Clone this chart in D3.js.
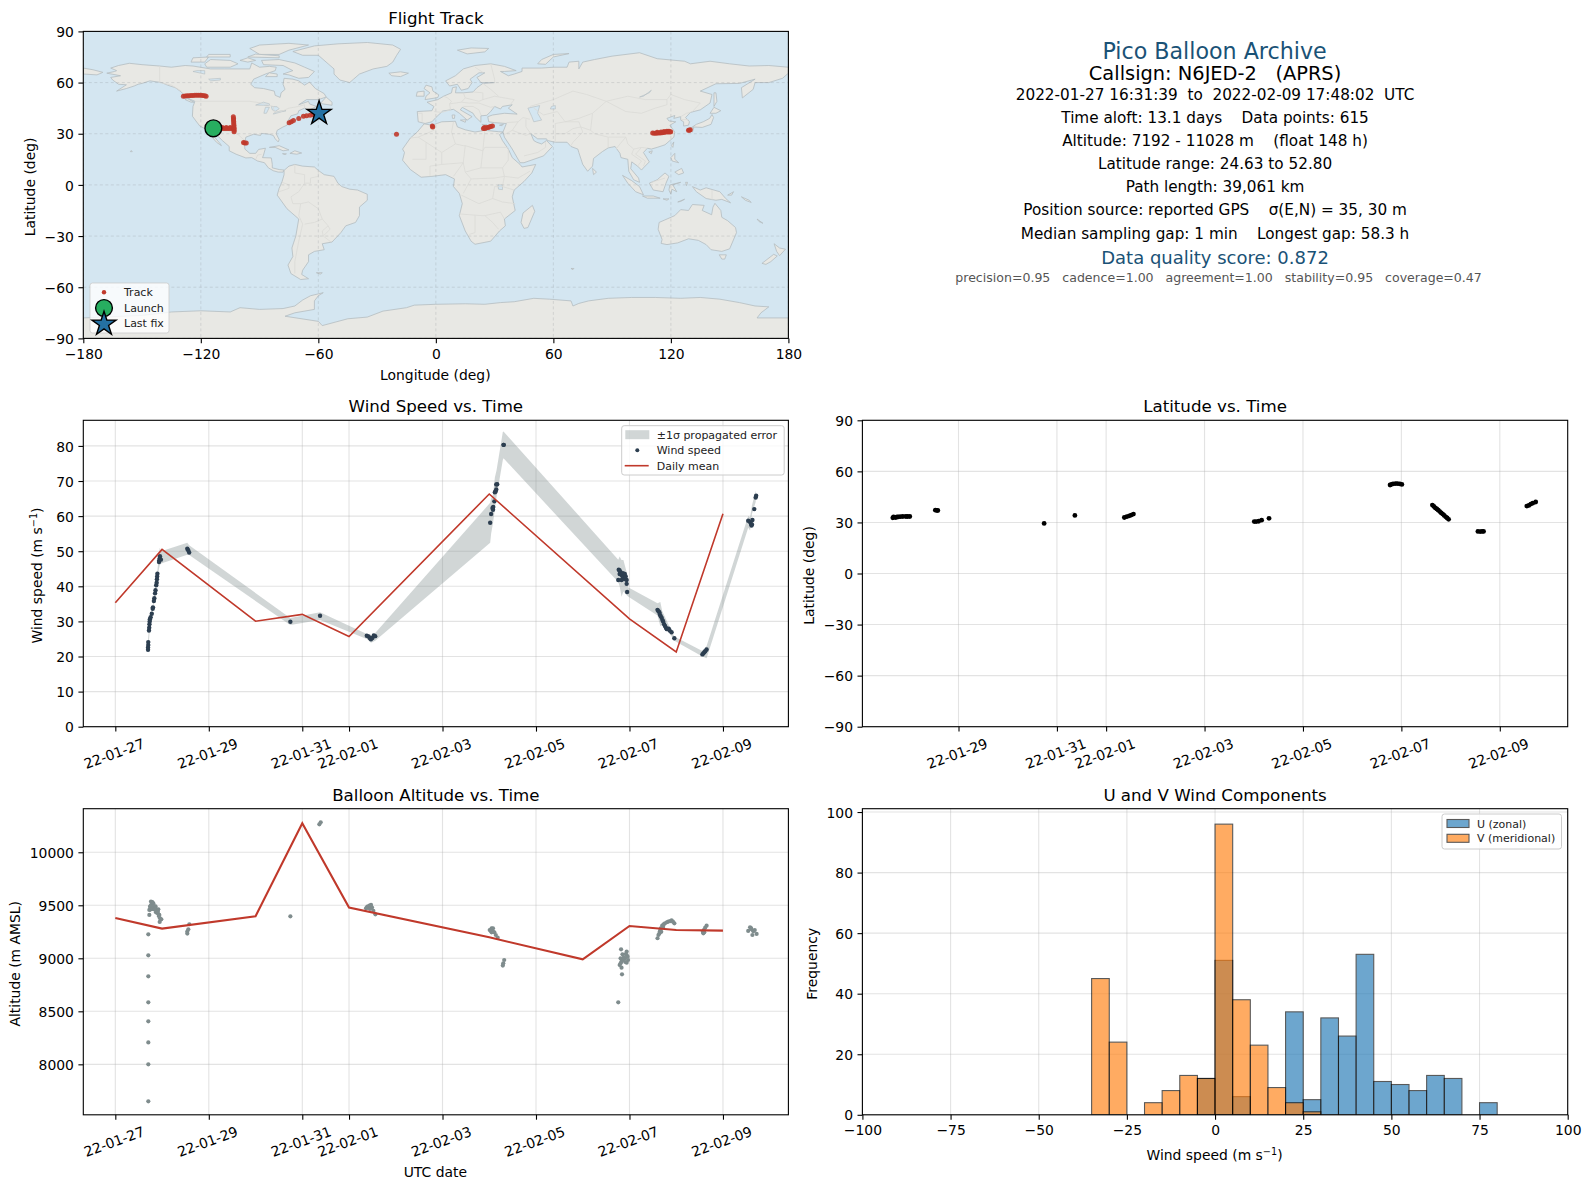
<!DOCTYPE html>
<html>
<head>
<meta charset="utf-8">
<script src="https://cdn.jsdelivr.net/npm/d3@7"></script>
<style>
  html, body { margin: 0; padding: 0; background: #fff; }
  text { font-family: "DejaVu Sans", sans-serif; fill: #000; }
</style>
</head>
<body>
<div id="chart"></div>
<script>
// Land outlines, lon/lat
const landPolygons = [
  // North America
  [[-168,65.5],[-164,66.5],[-163,67],[-166,68.5],[-162,70],[-156.5,71.3],[-150,70.5],[-141,69.7],[-135,69],[-128,70],[-124,69.7],[-115,68],[-108,68],[-100,68],[-95,68],[-94,71.5],[-90,69],[-85,69.5],[-81.5,69],[-82,67],[-87,65],[-93,62],[-94.5,59],[-92.5,57],[-88,56.5],[-82.5,55],[-82,52.5],[-79.5,51.3],[-79,54],[-77,56],[-78,59],[-77.5,62.5],[-73,62],[-70,61],[-67,58.5],[-64.5,60.3],[-61.5,56.5],[-57,53.5],[-56,51.5],[-60,50],[-66,50],[-70,47],[-65,49],[-64.5,47.5],[-61,46],[-65,43.7],[-67,45],[-70,43.5],[-70.5,41.7],[-74,40.5],[-75.5,37.5],[-76,35],[-78,34],[-81,32],[-81.5,30],[-80,26.5],[-80.5,25.2],[-82,27],[-83,29],[-85,29.7],[-89,30.2],[-89.5,29],[-93,29.7],[-97,28],[-97.7,24],[-97.5,21],[-95,18.5],[-92,18.5],[-90.5,20.8],[-87,21.5],[-88,17.5],[-88.5,16],[-84,15.8],[-83.5,12],[-83.5,10],[-80,9],[-77.5,8.7],[-78,7.5],[-80.5,7.5],[-83,8.3],[-85.5,10],[-87.5,13],[-91,14],[-94,16],[-97,15.8],[-102,18],[-105.5,20],[-105.5,22.5],[-109,26],[-112.5,30],[-114.7,31.7],[-113,28],[-110,24],[-109.5,23],[-112,25],[-115,29],[-117,32.5],[-120.5,34.5],[-122.5,37.5],[-124.3,40.3],[-124,46],[-123,49],[-127,51],[-130,54.5],[-133,57],[-137,58.5],[-140,60],[-146,61],[-150,59.5],[-152,59],[-154,58],[-158,56.5],[-163,55],[-158,58.7],[-162,59],[-165,61.5],[-166,63],[-161,64],[-168,65.5]],
  // Greenland and Arctic islands
  [[-73,78.2],[-68,76],[-60,76],[-55,71],[-52,68],[-52,65],[-49,61.5],[-44,60],[-42,62],[-39,65],[-32,68],[-25,69.5],[-22,72],[-20,76],[-18,79.5],[-22,82],[-35,83.5],[-50,82.7],[-62,81.5],[-73,78.2]],
  [[-80,73.5],[-72,71.5],[-67,69],[-62,66.5],[-65,63],[-70,62.5],[-75,64.5],[-78,65],[-73,67],[-78,70],[-88,70.5],[-89,73]],
  [[-90,76.5],[-80,76.5],[-75,79],[-65,82],[-75,83],[-90,82],[-95,80]],
  [[-117,69],[-105,69],[-101,71],[-105,73],[-115,73.5],[-118,71]],
  [[-125,72],[-118,72],[-116,75],[-124,74.5]],
  [[-96,75],[-80,74.5],[-80,75.7],[-92,76.7]],
  [[-117,75],[-105,75],[-105,76.5],[-116,76.5]],
  [[-100,73],[-96,72],[-92,73],[-96,74.5]],
  [[-87,63.5],[-81,63.5],[-81,65],[-85,65.7]],
  [[-59,47.7],[-53,46.7],[-53,48.5],[-56,51.5]],
  [[-128,50],[-125,48.5],[-123.5,48.5],[-127,50.7]],
  // Caribbean, Pacific
  [[-85,22],[-80,23],[-75,20.5],[-78,20],[-82,22]],
  [[-74.5,18.5],[-72,20],[-68.5,18.7],[-71,18]],
  [[-78.3,18.3],[-76.3,18.2],[-77,17.8]],
  [[-156,19.5],[-155,19.5],[-155.5,20.2]],
  // South America
  [[-77.5,8.5],[-75,11],[-72,12],[-68,11],[-62,10.5],[-60,8.5],[-57,6],[-52,5],[-50,1],[-48,-1],[-44,-2.5],[-40,-3],[-35,-5.5],[-35,-9],[-39,-13],[-39,-18],[-41,-22],[-46,-24],[-48.5,-28],[-53,-33.5],[-58,-34.5],[-57,-38],[-62,-39],[-65,-41],[-65,-45],[-68,-50],[-68.5,-52.5],[-65,-55],[-69,-55.5],[-74,-52],[-75.5,-47],[-73,-42],[-73.5,-37],[-71.5,-30],[-70,-20],[-76,-14],[-81,-6],[-80,-2],[-78.5,2],[-77.5,6]],
  [[-61,-51.5],[-58,-51.5],[-59,-52.3]],
  // Africa
  [[-6,35.8],[-2,35],[3,37],[10,37.3],[11,34],[15,32.3],[20,31],[25,32],[32,31.2],[34.3,31],[32.5,29.5],[34,26],[37,21],[39,16],[43,12],[44,10.5],[51,12],[49,7],[45,2],[40,-3],[39,-7],[40.5,-15],[35,-20],[35.5,-24],[32.5,-27],[28,-33],[20,-34.8],[18,-33],[15,-27],[12,-18],[13.5,-11],[12,-5],[9,-1],[9.5,3.5],[5,6],[-2,5],[-7.5,4.5],[-13,9],[-17,14.5],[-16,19],[-17,21],[-13,27.5],[-9.5,31]],
  [[49.3,-12],[50.5,-15.5],[47,-25],[45,-25.5],[43.5,-22],[44.5,-16.5]],
  // Eurasia
  [[-9,37],[-9.5,43],[-2,43.5],[-1,46],[-4.5,48.5],[1,50],[4,52],[8,54],[8.5,57],[10.5,57.5],[10,54],[14,54],[19,54.5],[21,57],[24,59.5],[30,60],[23,60],[21,63],[25,65.7],[22,65.7],[17.5,62],[18.5,60],[16.5,56.5],[13,55.5],[11,59],[7,58],[5,61],[10,64],[14,68],[20,70],[28,71],[35,69.5],[41,67],[35,66.5],[33,66.5],[37,64],[40,65],[44,66.5],[44,68.5],[54,68.5],[60,69],[67,69],[68,72],[73,72.5],[73,68],[75,72],[81,73.5],[90,75.5],[104,77.5],[113,74],[127,72.5],[130,71],[140,72.5],[150,71],[160,69.7],[170,70],[180,69],[180,65.5],[177,62.5],[170,60],[163,60],[162,56],[156.5,51],[156,57],[163,62],[155,59.5],[143,59.3],[135,55],[141,53],[140,48],[135,44],[130,42.5],[127.5,39.5],[129.5,37],[129,35],[126.5,34.5],[126.5,37],[125,38],[125,40],[121.5,39],[122,40.7],[118,39],[119,37.5],[122.5,37],[119.5,35],[122,31],[121.5,28],[117,23.5],[113,22],[110,21],[108,21.5],[106,19],[109,13.5],[106,10],[105,8.7],[103,11],[100,13.5],[99.5,9.5],[103.5,4],[104,1.5],[101,3],[98.5,8],[98,15],[94.5,16],[94,18.5],[91.5,22.5],[88,21.7],[85,19.5],[80.5,15.5],[80,11],[77.5,8],[75,12],[73,19],[72.5,21],[69,22.5],[67,25],[61,25],[57,26],[56.5,27],[52,27],[48.5,30],[50,26],[51.5,25],[54,24],[56.5,26],[59.5,22.5],[55,17],[45,13],[43,13],[39,21],[35,28],[34.3,31],[36,36],[30,36.5],[27,37],[26.5,40],[29,41],[35,42],[41.5,41.5],[37,45],[39,47],[34,46],[33,44.5],[30,46],[28,43],[26,40.8],[23,40.5],[23,36.7],[20,40],[19,42],[13.5,45.5],[12.5,44],[18.5,40],[16,38],[12,42],[9,44.3],[3.5,43.3],[0,39.5],[-2,37],[-5.5,36]],
  [[-180,68.5],[-175,67.5],[-170,66],[-173,64.5],[-180,65]],
  [[-5.5,50],[1,51.2],[1.5,52.8],[-1.5,55],[-2,57.5],[-5,58.5],[-6,56.5],[-3,54],[-5,52]],
  [[-10,52],[-6,52],[-6,55],[-9.5,54.5]],
  [[-24,65.5],[-18,66.3],[-14,65.5],[-18,63.5],[-22.5,64]],
  [[11,79],[16,76.8],[25,78],[27,80],[18,80.3]],
  [[52,71],[56,70.7],[60,75],[68,77],[60,76.5],[54,73.5]],
  [[12.5,38],[15.5,38.2],[15,36.7]],
  [[8.3,41],[9.7,41],[9.5,39],[8.5,39]],
  [[23.5,35.5],[26.2,35.2],[24.5,34.9]],
  [[32.5,35],[34.5,35.6],[33.8,34.7]],
  // East Asia, islands
  [[142,46],[143.5,49],[143,54],[142,54],[142,50]],
  [[131,34],[136,33.7],[140.5,35.5],[141.8,39.5],[141,41.3],[139.8,39],[136.5,37],[133,35.5]],
  [[140,42],[143,42],[145.5,43.5],[142,45.5]],
  [[130,33.5],[131.7,33.5],[131,31],[130.2,31.5]],
  [[120.2,23],[121.5,25.2],[121,22]],
  [[108.7,19.3],[110.5,20],[110,18.3]],
  [[120,16],[122,18.5],[122,15],[124,13],[120.7,14]],
  [[122,7.5],[125.5,9.7],[126.5,7],[124,6]],
  [[95.3,5.6],[100,2.5],[104,-1],[106,-5.8],[102,-4],[98,1]],
  [[105.5,-6.5],[111,-6.5],[114.5,-7.8],[108,-7.8]],
  [[116,-8.2],[119,-8.2],[118,-9]],
  [[123.5,-10],[127,-8.4],[125,-9.7]],
  [[109,1],[113,3],[117,7],[119,5],[117.5,1],[116,-4],[111,-3]],
  [[119.5,0],[125,1.5],[121,0],[123,-4],[120.5,-2.5],[120,-5.5],[119,-3]],
  [[127.5,1.5],[128.5,1.5],[128,-0.5]],
  [[131,-1],[135,-3],[138,-1.7],[145,-4],[148,-8],[150.5,-10.5],[146,-8.5],[143,-9],[138,-8],[133,-4]],
  [[149,-6],[152,-4],[151,-6]],
  [[156,-7],[160,-9],[161,-10.3],[158,-9]],
  [[164,-20],[167,-22.5],[165,-21.5]],
  [[80,9.7],[82,7.5],[80.5,6]],
  // Australia, NZ
  [[114,-22],[113.5,-26],[115.5,-32],[115,-34.3],[118,-35],[123.5,-34],[129,-31.6],[134,-32.5],[138,-35],[140.5,-38],[146,-39],[150,-37.5],[153.5,-28],[153,-25],[149,-21],[146,-19],[145.5,-15],[142.5,-10.8],[141.5,-13],[140.8,-17.5],[136,-15],[137,-12],[131,-11.5],[129,-15],[125,-14.5],[122,-18],[117,-20.5]],
  [[144.7,-41],[148.3,-41],[147.5,-43.5],[146,-43.5]],
  [[172.7,-34.5],[175.5,-37],[178.5,-37.7],[175.5,-41.5],[174,-39]],
  [[172.5,-40.7],[174.3,-41.7],[171,-45],[168.5,-46.6],[166.5,-46]],
  [[69,-49],[70.5,-49],[70,-49.7]],
  // Antarctica
  [[-180,-78],[-160,-77],[-150,-76.5],[-135,-74.5],[-120,-73.8],[-105,-74.5],[-100,-72],[-90,-73],[-78,-72.5],[-72,-71],[-68,-67.5],[-64,-65],[-57.5,-63.2],[-60,-65],[-62,-68],[-62,-73],[-72,-75],[-77,-77],[-60,-80],[-58,-82.5],[-45,-78.5],[-35,-77.5],[-27,-74],[-15,-72],[-11,-70.5],[0,-70],[15,-69.7],[25,-70],[33,-69],[40,-68.5],[50,-66.5],[58,-67],[69,-68],[70,-71],[73,-69.5],[78,-68],[88,-66.5],[100,-66],[112,-66],[125,-66.5],[135,-66],[145,-67],[155,-69],[163,-71],[170,-71.5],[166,-75],[164,-78],[180,-78],[180,-90],[-180,-90]]
];

// Inland water
const lakePolygons = [
  [[47,45],[53,46.5],[52,42],[54,38],[50,37],[49,40]],
  [[-92,46.8],[-88,48.5],[-85,47.5],[-85,46.5],[-88,46.7]],
  [[-87.8,42],[-86.5,42],[-85,45.5],[-87,45.5]],
  [[-84,46],[-81,45.8],[-80,44.6],[-82,43.2],[-83.5,44]],
  [[-83,41.5],[-79,42.8],[-76.5,43.5],[-79.5,43.3],[-82.5,42.3]],
  [[-124,66.5],[-118,65],[-118,67],[-122,67]],
  [[-116,62],[-110,62.5],[-110,61.5],[-115,61]],
  [[104,51.5],[106,52],[110,55.5],[109,54]],
  [[59,46],[61,46.5],[61,44.5],[58.5,44.5]],
  [[31.7,0],[34,0],[34,-2.8],[32,-2.5]]
];

// Country borders
const borderLines = [
  [[-123,49],[-95,49],[-89,48],[-83,46],[-82.5,42.5],[-79,43],[-75,45],[-70,46],[-67,47],[-67,45]],
  [[-141,69.7],[-141,60],[-135,58.5],[-130,55]],
  [[-117,32.5],[-108,31.5],[-106,31.7],[-101,29.5],[-97.5,26]],
  [[-92,15],[-91,17.5],[-89,17.9]],
  [[-72,12],[-72,7],[-67,6],[-67,1],[-70,-4],[-74,-7],[-73,-11],[-69,-11],[-65,-10],[-60,-14],[-58,-20],[-55,-24],[-54,-26],[-57.5,-30],[-53.5,-33.5]],
  [[-60,8.5],[-60,5],[-64,4],[-64,1],[-67,1]],
  [[-78.5,1.5],[-75,0],[-75,-2],[-80,-4]],
  [[-70,-18],[-69,-11]],
  [[-70,-18],[-68,-23],[-70,-33],[-72,-45],[-72,-52]],
  [[-58,-20],[-62,-22],[-67,-23]],
  [[-55,-24],[-58,-27],[-57.5,-30]],
  [[-2,35],[-1,32],[-9,28],[-13,27.5]],
  [[9,37],[8,31],[10,24],[3,19],[-5,25],[-9,28]],
  [[10,24],[14,23],[15,23],[24,20],[25,32]],
  [[24,20],[25,22],[37,22]],
  [[-12,15],[-5,15],[-5,25]],
  [[3,19],[3,12],[-3,11],[-3,5]],
  [[3,12],[14,13],[15,23]],
  [[14,13],[9,5]],
  [[24,20],[23,10],[15,7.5],[14,13]],
  [[23,10],[34,10],[37,14.5],[37,21]],
  [[34,10],[35,5],[42,4],[48,8]],
  [[35,5],[34,-1],[40,-3]],
  [[34,-1],[30,-1],[29,-8],[22,-11],[13,-6]],
  [[15,7.5],[18,3.5],[30,4],[35,5]],
  [[18,3.5],[14,-5]],
  [[29,-8],[34,-10],[40.5,-11]],
  [[12,-17],[23,-18],[25,-18],[33,-16],[35,-20]],
  [[20,-18],[20,-28],[17,-29]],
  [[25,-18],[29,-22],[32,-26]],
  [[-1,43],[3,42.5],[7.5,44],[7,47.5],[8,49],[6,51],[4,52]],
  [[-9,42],[-7,42],[-7,37]],
  [[14,54],[15,51],[13,48.5],[7,47.5]],
  [[19,54.5],[24,54],[24,50],[22,49],[15,51]],
  [[24,50],[30,52],[40,50],[38,47]],
  [[24,59.5],[28,56],[32,52]],
  [[13,48.5],[17,48],[22,48],[28,45.5],[30,46]],
  [[14,46],[19,46],[22,44],[23,41]],
  [[28,71],[30,62],[30,60]],
  [[20,69],[24,66]],
  [[36,36.5],[42,37],[44.5,39.5],[48,38.5]],
  [[42,37],[39,32],[35,29.5]],
  [[39,32],[46,29],[48,30]],
  [[45,17],[52,19],[56,22],[56,25]],
  [[46,38.5],[46,34],[48.5,30]],
  [[61,25],[61,30],[61,36],[66,37],[73,37],[74,34]],
  [[61,30],[66,30],[70,33],[74,34],[75,31],[70,25],[69,23]],
  [[74,34],[79,32],[81,30],[88,28],[92,28],[97,28],[94,24],[92,21]],
  [[88,28],[88,22]],
  [[97,28],[98,24],[101,21],[105,22],[108,21.5]],
  [[101,21],[100,18],[105,14],[103,11]],
  [[105,22],[102,18],[107,14],[106,11]],
  [[50,45],[55,41],[62,43],[66,37]],
  [[48,46],[60,50],[70,55],[77,53],[87,49],[80,42],[73,39],[66,37]],
  [[87,49],[98,52],[107,50],[118,50],[120,53],[127,50],[135,48],[131,43]],
  [[87,49],[97,43],[105,42],[112,45],[118,47],[118,50]],
  [[125,40],[128,42],[130,42.5]],
  [[80,42],[79,32]],
  [[125,38.3],[129,38.3]],
  [[141,-3],[141,-9]],
  [[117,4],[110,1.5]]
];

// Map legend and markers
const launchPoint = [-113.6, 33.2];
const lastFix = [-59.6, 42];

// Track fixes, lon/lat
const trackPoints = [
  [-110,33],[-109,33],[-108,33],[-107,33.1],[-106,33.1],[-105,33.1],[-104,33.1],[-103.2,33.1],[-109,33.6],[-107,33.6],[-105,33.6],
  [-103,31.2],[-103,32],[-103,33],[-103.1,34],[-103.1,35],[-103.2,36],[-103.2,37],[-103.3,38],[-103.3,39],[-103.4,40],
  [-74.9,36.5],[-73.8,37],[-72.7,37.7],[-70,39],[-67.6,40.2],[-66,40.5],[-64.2,40.8],[-62.8,41.1],[-61.6,41.4],
  [-20.1,29.7],[-1.8,34.6],[-1.6,34],
  [24.3,33],[25,33.1],[25.8,33.5],[26.6,33.6],[27.3,34],[28,34.2],[28.9,34.5],[24.8,33.6],
  [110.7,30.4],[111.5,30.3],[112.5,30.3],[113.5,30.5],[114.5,30.4],[115.5,30.6],[116.5,30.7],[117.5,31],[118.5,31],[119.5,31],[119.9,31.2],[113,30.9],[115,31],[116.5,31.3],[118,31.4],[119,31.4],
  [129,32],[129.4,32],[129.9,32.3],
  [-128.9,52],[-128,52.1],[-127,52.2],[-126,52.3],[-125,52.4],[-124,52.4],[-123,52.5],[-122,52.5],[-121,52.6],[-120,52.5],[-119,52.4],[-118,52.2],[-117.3,52],
  [-98.2,24.9],[-97.6,24.6],[-96.8,24.6]
];

// Wind speed samples, [days since 2022-01-27, m/s]
const windPoints = [
  [.70,21.9],[.70,22.6],[.705,23.3],[.705,24.1],[.72,27.4],[.725,28.2],[.73,29.2],[.735,30],[.74,30.6],[.755,31.2],[.78,32.2],[.80,33.6],[.805,34],[.825,35.8],[.835,36.6],[.85,38],[.86,38.9],[.875,40.3],[.885,41],[.89,42],[.895,42.8],[.90,43.6],[.935,46.9],[.94,47.4],[.95,48],[.955,48.6],[.975,47.6],
  [1.54,50.7],[1.56,50.3],[1.58,49.6],
  [3.745,29.9],[4.38,31.6],
  [5.38,25.9],[5.42,25.7],[5.45,25.2],[5.47,24.9],[5.5,25.3],[5.53,26],[5.56,25.8],
  [8.02,58.1],[8.04,60.6],[8.07,62.3],[8.08,61.8],[8.085,62.6],[8.11,64.2],[8.12,66.8],[8.135,67],[8.15,67.6],[8.15,69],[8.17,69.1],[8.305,80.3],[8.31,80.3],
  [10.76,41.8],[10.77,44.7],[10.79,43.5],[10.81,44],[10.83,43.3],[10.85,42.9],[10.87,42.6],[10.89,42.1],[10.92,42.8],[10.94,41.8],[10.94,40.7],[10.83,41.8],[10.79,44.5],[10.86,43.7],[10.9,43.5],[10.95,38.4],
  [11.60,33.3],[11.62,32.9],[11.64,32.6],[11.65,32],[11.67,31.5],[11.69,31],[11.71,30.3],[11.72,30],[11.74,29.2],[11.76,28.7],[11.78,28.2],[11.8,27.8],[11.84,27.9],[11.86,27.4],[11.9,26.9],[11.96,25.2],
  [12.56,20.6],[12.58,20.9],[12.6,21.2],[12.62,21.5],[12.65,22],
  [13.54,58.7],[13.58,58.3],[13.6,57.8],[13.61,57.3],[13.63,58.9],[13.62,57.6],[13.67,62],[13.70,65.3],[13.71,65.8]
];

// Propagated error band, [day, low, high]
const windBand = [
  [.70,20.8,25],[.73,26.3,29.5],[.80,32.8,34.6],[.90,42.6,44.5],[.95,46,51],[.98,46.5,50],[1.54,49,52.4],[1.58,48.9,51.7],[3.72,29.2,31.2],[3.745,29,31],[4.38,30.4,32.6],[5.38,25,26.4],[5.47,23.9,26],[5.56,24.5,26.7],
  [8.02,52.4,63.8],[8.04,55,65],[8.08,58,66],[8.12,62,71],[8.155,65.4,73],[8.29,76,84],[8.305,76.5,84.1],[10.76,41.2,47.6],[10.79,40,48.5],[10.83,37,47.5],[10.87,38.5,47.5],[10.94,37.5,44],[10.97,37.1,39.7],
  [11.6,31.7,35.2],[11.66,28.6,35.5],[11.7,29,33],[11.84,27,29],[11.96,24.5,25.7],[12.56,20,21.6],[12.65,19.5,23],[13.54,56.7,60],[13.58,55.9,59.6],[13.62,60.6,63],[13.70,64,67.3]
];

const windMeanDays = [0, 1, 3, 4, 5, 8, 11, 12, 13];
const windMean = [35.3, 50.5, 30.05, 32, 25.7, 66.3, 30.7, 21.3, 60.7];

// Latitude samples, [day, deg]
const latPoints = [
  [.665,32.7],[.72,32.9],[.78,33.3],[.87,33.5],[.93,33.5],[.965,33.5],[1.01,33.5],[.68,33.2],[.75,33.2],[.82,33.4],
  [1.53,37.2],[1.555,37.1],[1.58,37],[3.74,29.4],[4.365,34.1],
  [5.37,32.9],[5.42,33.4],[5.47,33.9],[5.51,34.3],[5.555,34.9],
  [8.01,30.5],[8.05,30.5],[8.1,30.7],[8.16,31.3],[8.31,32.4],
  [10.77,52],[10.8,52.4],[10.83,52.6],[10.88,52.8],[10.92,52.8],[10.97,52.6],[11.01,52.3],
  [11.63,40.2],[11.66,39.4],[11.69,38.6],[11.72,37.9],[11.75,37.2],[11.78,36.4],[11.81,35.6],[11.84,34.9],[11.87,34.1],[11.9,33.3],[11.93,32.6],[11.96,31.8],
  [12.555,24.7],[12.6,24.63],[12.64,24.7],[12.67,24.7],
  [13.55,39.6],[13.59,40],[13.63,40.8],[13.67,41.3],[13.73,42]
];

// Altitude samples, [day, m]
const altPoints = [
  [.706,9226],[.706,9028],[.706,8830],[.706,8585],[.706,8406],[.706,8207],[.706,8000],[.706,7651],
  [.728,9409],[.728,9456],[.742,9487],[.763,9535],[.792,9529],[.777,9503],[.813,9519],[.827,9487],[.799,9465],[.849,9487],[.87,9465],[.899,9456],[.92,9462],[.87,9434],[.906,9425],[.942,9409],[.956,9377],[.984,9368],[.949,9343],[.75,9460],[.78,9470],[.84,9460],[.89,9440],[.76,9500],[.81,9490],[.86,9490],[.91,9440],[.93,9400],
  [1.583,9321],[1.562,9274],[1.54,9252],[1.54,9233],
  [3.745,9396],[4.365,10264],[4.394,10283],
  [5.364,9472],[5.392,9487],[5.435,9497],[5.471,9503],[5.492,9478],[5.449,9465],[5.521,9447],[5.564,9415],[5.42,9480],[5.38,9475],
  [8.01,9267],[8.05,9283],[8.08,9283],[8.05,9245],[8.11,9245],[8.14,9220],[8.18,9195],[8.03,9260],[8.08,9255],
  [8.32,8984],[8.30,8953],[8.29,8931],
  [10.82,9085],[10.94,9063],[10.85,9038],[10.94,9031],[10.81,9000],[10.9,9000],[10.97,8984],[10.83,8969],[10.94,8959],[10.79,8937],[10.83,8912],[10.81,8953],[10.88,9010],[10.92,9040],[10.86,8985],[10.96,9015],[10.91,8965],[10.84,8849],[10.76,8585],
  [11.6,9189],[11.62,9220],[11.65,9252],[11.67,9283],[11.7,9308],[11.76,9330],[11.83,9346],[11.9,9358],[11.96,9330],[11.73,9320],[11.8,9340],[11.87,9350],[11.93,9345],[11.64,9235],[11.66,9268],[11.68,9250],[11.72,9295],
  [12.58,9236],[12.59,9267],[12.62,9289],[12.65,9308],[12.57,9250],[12.6,9245],
  [13.54,9258],[13.58,9292],[13.61,9274],[13.63,9220],[13.68,9267],[13.72,9230],[13.6,9285],[13.65,9255]
];

const altMeanDays = [0, 1, 3, 4, 5, 8, 10, 11, 12, 13];
const altMean = [9380, 9280, 9396, 10274, 9478, 9198, 8990, 9305, 9267, 9261];

// Histogram bins (5 m/s wide)
const binStarts = [-35, -30, -25, -20, -15, -10, -5, 0, 5, 10, 15, 20, 25, 30, 35, 40, 45, 50, 55, 60, 65, 70, 75];
const uCounts = [0, 0, 0, 0, 0, 0, 12, 51, 6, 0, 0, 34, 5, 32, 26, 53, 11, 10, 8, 13, 12, 0, 4];
const vCounts = [45, 24, 0, 4, 8, 13, 12, 96, 38, 23, 9, 4, 1, 0, 0, 0, 0, 0, 0, 0, 0, 0, 0];

// Tick labels and info text
const dateTicks = ["22-01-27", "22-01-29", "22-01-31", "22-02-01", "22-02-03", "22-02-05", "22-02-07", "22-02-09"];
const dateTicksLat = dateTicks.slice(1);
const lonTicks = [-180, -120, -60, 0, 60, 120, 180];
const latTicks = [-90, -60, -30, 0, 30, 60, 90];
const windTicks = [0, 10, 20, 30, 40, 50, 60, 70, 80];
const altTicks = [8000, 8500, 9000, 9500, 10000];
const histXTicks = [-100, -75, -50, -25, 0, 25, 50, 75, 100];
const histYTicks = [0, 20, 40, 60, 80, 100];

const infoLines = [
  "2022-01-27 16:31:39  to  2022-02-09 17:48:02  UTC",
  "Time aloft: 13.1 days    Data points: 615",
  "Altitude: 7192 - 11028 m    (float 148 h)",
  "Latitude range: 24.63 to 52.80",
  "Path length: 39,061 km",
  "Position source: reported GPS    σ(E,N) = 35, 30 m",
  "Median sampling gap: 1 min    Longest gap: 58.3 h"
];

const width = 1589, height = 1189;
const leftCol = [83.3, 788.4], rightCol = [862.4, 1567.7];
const row1 = [31.4, 338.4], row2 = [420.3, 726.7], row3 = [808.7, 1114.8];
const red = "#c0392b";
const day0 = Date.UTC(2022, 0, 27);
const toDate = d => new Date(day0 + d * 864e5);
const parseTick = d3.utcParse("%y-%m-%d");
const fontSize = "13.9px";

const svg = d3.select("#chart").append("svg")
  .attr("width", width).attr("height", height)
  .style("display", "block");

const defs = svg.append("defs");
let clipCount = 0;

// Label with the "m s-1" exponent set as a raised tspan
function writeLabel(sel, label) {
  const parts = label.split("^");
  sel.append("tspan").text(parts[0]);
  if (parts.length > 1) {
    sel.append("tspan").attr("dy", -5).style("font-size", "9.7px").text("−1");
    sel.append("tspan").attr("dy", 5).text(parts[1]);
  }
}

// Axes frame, grid and ticks for one panel
function createPanel({ xr, yr, x, y, xTicks, yTicks, xFormat, yFormat, title, titleDy, xLabel, yLabel, yLabelX, xLabelY, dashed, gridOver }) {
  const id = "clip" + (clipCount++);
  defs.append("clipPath").attr("id", id).append("rect")
    .attr("x", xr[0]).attr("y", yr[0]).attr("width", xr[1] - xr[0]).attr("height", yr[1] - yr[0]);

  const gridLayer = svg.append("g");
  const drawGrid = g => {
    g.selectAll(".gx").data(xTicks).enter().append("line").attr("class", "gx")
      .attr("x1", d => x(d)).attr("x2", d => x(d)).attr("y1", yr[0]).attr("y2", yr[1]);
    g.selectAll(".gy").data(yTicks).enter().append("line").attr("class", "gy")
      .attr("y1", d => y(d)).attr("y2", d => y(d)).attr("x1", xr[0]).attr("x2", xr[1]);
    g.selectAll("line").attr("stroke", dashed ? "#8a8f92" : "#b0b0b0")
      .attr("stroke-opacity", dashed ? 0.3 : 0.35).attr("stroke-width", dashed ? 0.8 : 1.1)
      .attr("stroke-dasharray", dashed ? "3,2.5" : null);
  };
  const body = svg.append("g").attr("clip-path", `url(#${id})`);
  if (!gridOver) drawGrid(gridLayer);

  const frame = svg.append("g");
  frame.append("g").attr("class", "xaxis").attr("transform", `translate(0,${yr[1]})`)
    .call(d3.axisBottom(x).tickValues(xTicks).tickFormat(xFormat || d3.format("d")).tickSize(4.9).tickPadding(5.5))
    .call(styleAxis);
  frame.append("g").attr("transform", `translate(${xr[0]},0)`)
    .call(d3.axisLeft(y).tickValues(yTicks).tickFormat(yFormat || d3.format("d")).tickSize(4.9).tickPadding(4.5))
    .call(styleAxis)
    .call(g => g.selectAll("text").attr("dy", "0.37em"));
  frame.append("rect").attr("x", xr[0]).attr("y", yr[0]).attr("width", xr[1] - xr[0]).attr("height", yr[1] - yr[0])
    .attr("fill", "none").attr("stroke", "#000").attr("stroke-width", 1.1);

  svg.append("text").attr("x", (xr[0] + xr[1]) / 2).attr("y", yr[0] - 8 + (titleDy || 0))
    .attr("text-anchor", "middle").style("font-size", "16.67px").text(title);
  if (xLabel) svg.append("text").attr("x", (xr[0] + xr[1]) / 2 - 0.5).attr("y", xLabelY)
    .attr("text-anchor", "middle").style("font-size", fontSize).call(writeLabel, xLabel);
  if (yLabel) svg.append("text").attr("transform", `translate(${yLabelX},${(yr[0] + yr[1]) / 2 + 2}) rotate(-90)`)
    .attr("text-anchor", "middle").style("font-size", fontSize).call(writeLabel, yLabel);

  return { body, frame, gridLayer, drawGrid };
}

function styleAxis(g) {
  g.select(".domain").remove();
  g.selectAll("line").attr("stroke", "#000").attr("stroke-width", 1.1);
  g.selectAll("text").style("font-size", fontSize);
}

// Rotated date labels, centered on the tick
function rotateDates(panel) {
  panel.frame.selectAll(".xaxis .tick text")
    .attr("text-anchor", "middle")
    .attr("dy", null).attr("y", null)
    .attr("transform", "translate(0,31.5) rotate(-20)");
}

const dateFormat = d3.utcFormat("%y-%m-%d");

// 1. Flight track map
function createMap() {
  const x = d3.scaleLinear().domain([-180, 180]).range(leftCol);
  const y = d3.scaleLinear().domain([-90, 90]).range([row1[1], row1[0]]);
  const panel = createPanel({
    xr: leftCol, yr: row1, x, y, xTicks: lonTicks, yTicks: latTicks,
    title: "Flight Track", titleDy: 1, xLabel: "Longitude (deg)", xLabelY: 379.5,
    yLabel: "Latitude (deg)", yLabelX: 35, dashed: true, gridOver: true
  });
  const line = d3.line().x(d => x(d[0])).y(d => y(d[1]));
  const body = panel.body;
  body.append("rect").attr("x", leftCol[0]).attr("y", row1[0])
    .attr("width", leftCol[1] - leftCol[0]).attr("height", row1[1] - row1[0]).attr("fill", "#d4e6f1");
  body.selectAll(".land").data(landPolygons).enter().append("path").attr("class", "land")
    .attr("d", d => line(d) + "Z").attr("fill", "#e8e8e4").attr("stroke", "#b4bcc0").attr("stroke-width", 0.8);
  body.selectAll(".lake").data(lakePolygons).enter().append("path").attr("class", "lake")
    .attr("d", d => line(d) + "Z").attr("fill", "#d4e6f1").attr("stroke", "#b4bcc0").attr("stroke-width", 0.6);
  body.selectAll(".border").data(borderLines).enter().append("path").attr("class", "border")
    .attr("d", line).attr("fill", "none").attr("stroke", "#dadbd7").attr("stroke-width", 0.8);
  const grid = body.append("g");
  panel.drawGrid(grid);
  body.selectAll(".track").data(trackPoints).enter().append("circle").attr("class", "track")
    .attr("cx", d => x(d[0])).attr("cy", d => y(d[1])).attr("r", 2.5).attr("fill", red).attr("fill-opacity", 0.9);
  body.append("circle").attr("cx", x(launchPoint[0])).attr("cy", y(launchPoint[1])).attr("r", 8.4)
    .attr("fill", "#27ae60").attr("stroke", "#000").attr("stroke-width", 1.4);
  body.append("path").attr("d", d3.symbol(d3.symbolStar, 180))
    .attr("transform", `translate(${x(lastFix[0])},${y(lastFix[1])})`)
    .attr("fill", "#2471a3").attr("stroke", "#000").attr("stroke-width", 1.4);

  // legende
  const lg = svg.append("g").attr("transform", "translate(90,283)");
  lg.append("rect").attr("width", 79).attr("height", 50).attr("rx", 2.5)
    .attr("fill", "#fff").attr("fill-opacity", 0.8).attr("stroke", "#ccc").attr("stroke-opacity", 0.8);
  lg.append("circle").attr("cx", 14).attr("cy", 9.3).attr("r", 2.2).attr("fill", red);
  lg.append("circle").attr("cx", 14).attr("cy", 25).attr("r", 8.4).attr("fill", "#27ae60").attr("stroke", "#000").attr("stroke-width", 1.4);
  lg.append("path").attr("d", d3.symbol(d3.symbolStar, 180)).attr("transform", "translate(14,41)")
    .attr("fill", "#2471a3").attr("stroke", "#000").attr("stroke-width", 1.4);
  ["Track", "Launch", "Last fix"].forEach((t, i) => {
    lg.append("text").attr("x", 34).attr("y", [13.2, 29, 44.3][i]).style("font-size", "11px").style("fill", "#222").text(t);
  });
}

// 2. Info block
function createInfo() {
  const cx = (rightCol[0] + rightCol[1]) / 2;
  const put = (t, y, size, color, dx) => svg.append("text").attr("x", cx + (dx || 0)).attr("y", y)
    .attr("text-anchor", "middle").style("font-size", size + "px").style("fill", color || "#000")
    .style("white-space", "pre").text(t);
  put("Pico Balloon Archive", 58.5, 22.2, "#1a5276", -0.5);
  put("Callsign: N6JED-2   (APRS)", 79.5, 19.4);
  const ys = [99.5, 122.5, 145.5, 168.5, 191.5, 215, 238.7];
  infoLines.forEach((t, i) => put(t, ys[i], 15.25));
  put("Data quality score: 0.872", 263.7, 18, "#1a5276");
  put("precision=0.95   cadence=1.00   agreement=1.00   stability=0.95   coverage=0.47", 282, 12.55, "#555", 3.5);
}

// 3. Wind speed vs time
function createWind() {
  const x = d3.scaleTime().domain([toDate(-0.685), toDate(14.40)]).range(leftCol);
  const y = d3.scaleLinear().domain([0, 87.3]).range([row2[1], row2[0]]);
  const panel = createPanel({
    xr: leftCol, yr: row2, x, y, xTicks: dateTicks.map(parseTick), yTicks: windTicks, xFormat: dateFormat,
    title: "Wind Speed vs. Time", yLabel: "Wind speed (m s^)", yLabelX: 42
  });
  rotateDates(panel);
  const area = d3.area().x(d => x(toDate(d[0]))).y0(d => y(d[1])).y1(d => y(d[2]));
  panel.body.append("path").attr("d", area(windBand)).attr("fill", "#7f8c8d").attr("fill-opacity", 0.36);
  panel.body.selectAll("circle").data(windPoints).enter().append("circle")
    .attr("cx", d => x(toDate(d[0]))).attr("cy", d => y(d[1])).attr("r", 2.2).attr("fill", "#2c3e50");
  const line = d3.line().x((d, i) => x(toDate(windMeanDays[i]))).y(d => y(d));
  panel.body.append("path").attr("d", line(windMean)).attr("fill", "none").attr("stroke", red).attr("stroke-width", 1.6);

  const lg = svg.append("g").attr("transform", "translate(621.7,425.7)");
  lg.append("rect").attr("width", 162.5).attr("height", 49.3).attr("rx", 2.5)
    .attr("fill", "#fff").attr("fill-opacity", 0.8).attr("stroke", "#ccc");
  lg.append("rect").attr("x", 3.6).attr("y", 4.5).attr("width", 24).attr("height", 9).attr("fill", "#7f8c8d").attr("fill-opacity", 0.36);
  lg.append("circle").attr("cx", 15.6).attr("cy", 24.5).attr("r", 2).attr("fill", "#2c3e50");
  lg.append("line").attr("x1", 3).attr("x2", 27).attr("y1", 40).attr("y2", 40).attr("stroke", red).attr("stroke-width", 1.6);
  ["±1σ propagated error", "Wind speed", "Daily mean"].forEach((t, i) => {
    lg.append("text").attr("x", 35).attr("y", [13.2, 28.5, 44][i]).style("font-size", "11px").style("fill", "#222").text(t);
  });
}

// 4. Latitude vs time
function createLatitude() {
  const x = d3.scaleTime().domain([toDate(0.047), toDate(14.38)]).range(rightCol);
  const y = d3.scaleLinear().domain([-90, 90]).range([row2[1], row2[0]]);
  const panel = createPanel({
    xr: rightCol, yr: row2, x, y, xTicks: dateTicksLat.map(parseTick), yTicks: latTicks, xFormat: dateFormat,
    title: "Latitude vs. Time", yLabel: "Latitude (deg)", yLabelX: 814
  });
  rotateDates(panel);
  panel.body.selectAll("circle").data(latPoints).enter().append("circle")
    .attr("cx", d => x(toDate(d[0]))).attr("cy", d => y(d[1])).attr("r", 2.4).attr("fill", "#000");
}

// 5. Altitude vs time
function createAltitude() {
  const x = d3.scaleTime().domain([toDate(-0.685), toDate(14.40)]).range(leftCol);
  const y = d3.scaleLinear().domain([7524, 10411]).range([row3[1], row3[0]]);
  const panel = createPanel({
    xr: leftCol, yr: row3, x, y, xTicks: dateTicks.map(parseTick), yTicks: altTicks, xFormat: dateFormat,
    title: "Balloon Altitude vs. Time", xLabel: "UTC date", xLabelY: 1177,
    yLabel: "Altitude (m AMSL)", yLabelX: 20
  });
  rotateDates(panel);
  panel.body.selectAll("circle").data(altPoints).enter().append("circle")
    .attr("cx", d => x(toDate(d[0]))).attr("cy", d => y(d[1])).attr("r", 2.1).attr("fill", "#7f8c8d");
  const line = d3.line().x((d, i) => x(toDate(altMeanDays[i]))).y(d => y(d));
  panel.body.append("path").attr("d", line(altMean)).attr("fill", "none").attr("stroke", red).attr("stroke-width", 2.1);
}

// 6. Histogram U / V
function createHistogram() {
  const x = d3.scaleLinear().domain([-100, 100]).range(rightCol);
  const y = d3.scaleLinear().domain([0, 101.1]).range([row3[1], row3[0]]);
  const panel = createPanel({
    xr: rightCol, yr: row3, x, y, xTicks: histXTicks, yTicks: histYTicks,
    title: "U and V Wind Components", xLabel: "Wind speed (m s^)", xLabelY: 1159.5,
    yLabel: "Frequency", yLabelX: 817
  });
  const drawBars = (counts, color) => {
    panel.body.append("g").selectAll("rect")
      .data(binStarts.map((b, i) => ({ b, c: counts[i] })).filter(d => d.c > 0))
      .enter().append("rect")
      .attr("x", d => x(d.b)).attr("width", d => x(d.b + 5) - x(d.b))
      .attr("y", d => y(d.c)).attr("height", d => y(0) - y(d.c))
      .attr("fill", color).attr("stroke", "#000").attr("stroke-width", 1.1).attr("opacity", 0.65);
  };
  drawBars(uCounts, "#1f77b4");
  drawBars(vCounts, "#ff7f0e");

  const lg = svg.append("g").attr("transform", "translate(1442,814)");
  lg.append("rect").attr("width", 119.5).attr("height", 35).attr("rx", 2.5)
    .attr("fill", "#fff").attr("fill-opacity", 0.8).attr("stroke", "#ccc");
  [["U (zonal)", "#1f77b4"], ["V (meridional)", "#ff7f0e"]].forEach((d, i) => {
    lg.append("rect").attr("x", 5).attr("y", 5.5 + i * 14.8).attr("width", 22).attr("height", 8)
      .attr("fill", d[1]).attr("stroke", "#000").attr("stroke-width", 1.1).attr("opacity", 0.65);
    lg.append("text").attr("x", 35).attr("y", 13.5 + i * 14.8).style("font-size", "11px").style("fill", "#222").text(d[0]);
  });
}

createMap();
createInfo();
createWind();
createLatitude();
createAltitude();
createHistogram();
</script>
</body>
</html>
